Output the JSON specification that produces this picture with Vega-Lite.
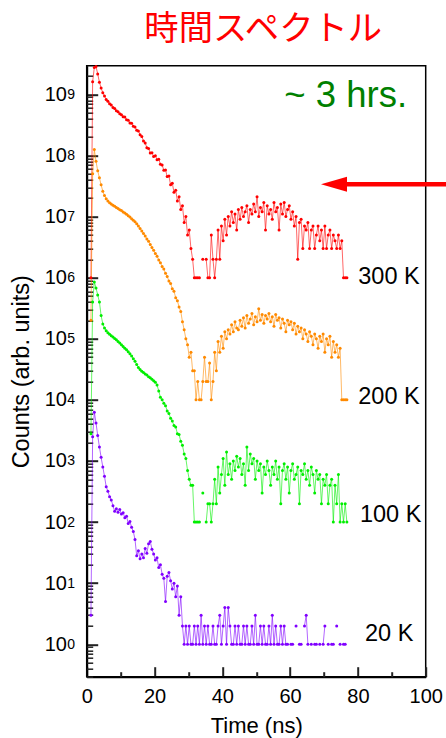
{
  "$schema": "https://vega.github.io/schema/vega-lite/v6.json",
  "width": 339,
  "height": 611,
  "autosize": "none",
  "padding": {"left": 86.7, "top": 65.7, "right": 20.3, "bottom": 61.3},
  "background": "white",
  "config": {
    "view": {"stroke": "black", "strokeWidth": 1.5},
    "axis": {"labelFont": "Liberation Sans", "titleFont": "Liberation Sans", "labelColor": "black", "titleColor": "black", "domainColor": "black", "grid": false},
    "text": {"font": "Liberation Sans"}
  },
  "title": {"text": "時間スペクトル", "color": "#ff0000", "font": "Noto Sans CJK JP", "fontSize": 34.3, "fontWeight": "normal", "anchor": "middle", "frame": "group", "offset": 17, "dx": 7},
  "datasets": {
    "decay": [
      {"t":1.25,"r":1e6,"o":20e4,"g":28e2,"p":3},
      {"t":1.75,"r":1600e6,"o":5000e4,"g":4000e2,"p":2500},
      {"t":2.25,"r":2750e6,"o":12500e4,"g":8500e2,"p":6300},
      {"t":2.75,"r":2850e6,"o":8000e4,"g":6800e2,"p":4200},
      {"t":3.25,"r":2150e6,"o":5600e4,"g":5200e2,"p":2600},
      {"t":3.75,"r":1580e6,"o":4300e4,"g":4000e2,"p":1700},
      {"t":4.25,"r":1270e6,"o":3300e4,"g":2400e2,"p":1150},
      {"t":4.75,"r":1060e6,"o":2600e4,"g":1750e2,"p":800},
      {"t":5.25,"r":940e6,"o":2200e4,"g":1500e2,"p":560},
      {"t":5.75,"r":820e6,"o":1950e4,"g":1350e2,"p":380},
      {"t":6.25,"r":770e6,"o":1800e4,"g":1250e2,"p":320},
      {"t":6.75,"r":700e6,"o":1680e4,"g":1180e2,"p":260},
      {"t":7.25,"r":670e6,"o":1600e4,"g":1120e2,"p":230},
      {"t":7.75,"r":610e6,"o":1530e4,"g":1070e2,"p":185},
      {"t":8.25,"r":585e6,"o":1480e4,"g":1010e2,"p":150},
      {"t":8.75,"r":540e6,"o":1400e4,"g":960e2,"p":165},
      {"t":9.25,"r":520e6,"o":1350e4,"g":900e2,"p":145},
      {"t":9.75,"r":480e6,"o":1290e4,"g":850e2,"p":160},
      {"t":10.25,"r":465e6,"o":1250e4,"g":800e2,"p":135},
      {"t":10.75,"r":430e6,"o":1190e4,"g":750e2,"p":142},
      {"t":11.25,"r":425e6,"o":1140e4,"g":700e2,"p":118},
      {"t":11.75,"r":385e6,"o":1090e4,"g":660e2,"p":125},
      {"t":12.25,"r":378e6,"o":1030e4,"g":610e2,"p":95},
      {"t":12.75,"r":340e6,"o":980e4,"g":570e2,"p":102},
      {"t":13.25,"r":336e6,"o":920e4,"g":520e2,"p":82},
      {"t":13.75,"r":300e6,"o":870e4,"g":470e2,"p":70},
      {"t":14.25,"r":292e6,"o":820e4,"g":430e2,"p":52},
      {"t":14.75,"r":258e6,"o":760e4,"g":380e2,"p":28},
      {"t":15.25,"r":250e6,"o":700e4,"g":340e2,"p":34},
      {"t":15.75,"r":218e6,"o":640e4,"g":315e2,"p":25},
      {"t":16.25,"r":205e6,"o":580e4,"g":295e2,"p":30},
      {"t":16.75,"r":172e6,"o":530e4,"g":280e2,"p":26},
      {"t":17.25,"r":160e6,"o":480e4,"g":265e2,"p":37},
      {"t":17.75,"r":134e6,"o":430e4,"g":255e2,"p":31},
      {"t":18.25,"r":130e6,"o":395e4,"g":240e2,"p":44},
      {"t":18.75,"r":110e6,"o":350e4,"g":230e2,"p":48},
      {"t":19.25,"r":111e6,"o":310e4,"g":218e2,"p":36},
      {"t":19.75,"r":96e6,"o":280e4,"g":205e2,"p":30},
      {"t":20.25,"r":99e6,"o":248e4,"g":195e2,"p":24},
      {"t":20.75,"r":85e6,"o":225e4,"g":175e2,"p":26},
      {"t":21.25,"r":87e6,"o":195e4,"g":140e2,"p":18},
      {"t":21.75,"r":72e6,"o":175e4,"g":110e2,"p":20},
      {"t":22.25,"r":70e6,"o":152e4,"g":100e2,"p":14},
      {"t":22.75,"r":57e6,"o":138e4,"g":88e2,"p":12},
      {"t":23.25,"r":58e6,"o":118e4,"g":80e2,"p":5},
      {"t":23.75,"r":45e6,"o":104e4,"g":66e2,"p":13},
      {"t":24.25,"r":46e6,"o":88e4,"g":60e2,"p":15},
      {"t":24.75,"r":33e6,"o":80e4,"g":50e2,"p":11},
      {"t":25.25,"r":35e6,"o":66e4,"g":45e2,"p":8},
      {"t":25.75,"r":25e6,"o":60e4,"g":38e2,"p":10},
      {"t":26.25,"r":27e6,"o":47e4,"g":36e2,"p":6},
      {"t":26.75,"r":18e6,"o":42e4,"g":28e2,"p":9},
      {"t":27.25,"r":21e6,"o":33e4,"g":27e2,"p":3},
      {"t":27.75,"r":13e6,"o":28e4,"g":21e2,"p":6},
      {"t":28.25,"r":15e6,"o":19e4,"g":18e2,"p":2},
      {"t":28.75,"r":8e6,"o":14e4,"g":13e2,"p":1},
      {"t":29.25,"r":10e6,"o":10e4,"g":11e2,"p":2},
      {"t":29.75,"r":5e6,"o":8e4,"g":7e2,"p":1},
      {"t":30.25,"r":6e6,"o":5e4,"g":5e2,"p":2},
      {"t":30.75,"r":3e6,"o":6e4,"g":4e2,"p":1},
      {"t":31.25,"r":2e6,"o":3e4,"g":4e2,"p":1},
      {"t":31.75,"r":1e6,"o":3e4,"g":1e2,"p":2},
      {"t":32.25,"r":1e6,"o":1e4,"g":1e2,"p":1},
      {"t":32.75,"r":1e6,"o":2e4,"g":1e2,"p":2},
      {"t":33.25,"r":1e6,"o":1e4,"g":1e2,"p":1},
      {"t":33.75,"r":null,"o":1e4,"g":null,"p":3},
      {"t":34.25,"r":2e6,"o":2e4,"g":3e2,"p":1},
      {"t":34.75,"r":null,"o":5e4,"g":null,"p":2},
      {"t":35.25,"r":2e6,"o":2e4,"g":1e2,"p":1},
      {"t":35.75,"r":1e6,"o":2e4,"g":2e2,"p":2},
      {"t":36.25,"r":1e6,"o":4e4,"g":2e2,"p":1},
      {"t":36.75,"r":5e6,"o":1e4,"g":1e2,"p":1},
      {"t":37.25,"r":2e6,"o":2e4,"g":2e2,"p":2},
      {"t":37.75,"r":1e6,"o":6e4,"g":5e2,"p":1},
      {"t":38.25,"r":2e6,"o":3e4,"g":2e2,"p":1},
      {"t":38.75,"r":6e6,"o":9e4,"g":8e2,"p":2},
      {"t":39.25,"r":2e6,"o":6e4,"g":3e2,"p":3},
      {"t":39.75,"r":7e6,"o":11e4,"g":6e2,"p":1},
      {"t":40.25,"r":4e6,"o":7e4,"g":11e2,"p":2},
      {"t":40.75,"r":9e6,"o":13e4,"g":4e2,"p":4},
      {"t":41.25,"r":5e6,"o":10e4,"g":14e2,"p":1},
      {"t":41.75,"r":10e6,"o":14e4,"g":6e2,"p":4},
      {"t":42.25,"r":7e6,"o":12e4,"g":9e2,"p":2},
      {"t":42.75,"r":12e6,"o":17e4,"g":5e2,"p":1},
      {"t":43.25,"r":8e6,"o":13e4,"g":10e2,"p":1},
      {"t":43.75,"r":11e6,"o":19e4,"g":7e2,"p":2},
      {"t":44.25,"r":6e6,"o":15e4,"g":12e2,"p":1},
      {"t":44.75,"r":13e6,"o":14e4,"g":8e2,"p":2},
      {"t":45.25,"r":9e6,"o":20e4,"g":11e2,"p":1},
      {"t":45.75,"r":14e6,"o":16e4,"g":6e2,"p":1},
      {"t":46.25,"r":10e6,"o":22e4,"g":9e2,"p":2},
      {"t":46.75,"r":12e6,"o":15e4,"g":4e2,"p":1},
      {"t":47.25,"r":15e6,"o":24e4,"g":17e2,"p":2},
      {"t":47.75,"r":8e6,"o":18e4,"g":7e2,"p":1},
      {"t":48.25,"r":13e6,"o":21e4,"g":13e2,"p":1},
      {"t":48.75,"r":11e6,"o":26e4,"g":9e2,"p":2},
      {"t":49.25,"r":16e6,"o":17e4,"g":11e2,"p":1},
      {"t":49.75,"r":12e6,"o":23e4,"g":5e2,"p":3},
      {"t":50.25,"r":21e6,"o":19e4,"g":10e2,"p":1},
      {"t":50.75,"r":10e6,"o":31e4,"g":7e2,"p":1},
      {"t":51.25,"r":14e6,"o":20e4,"g":9e2,"p":2},
      {"t":51.75,"r":12e6,"o":25e4,"g":3e2,"p":1},
      {"t":52.25,"r":17e6,"o":18e4,"g":8e2,"p":2},
      {"t":52.75,"r":6e6,"o":24e4,"g":6e2,"p":1},
      {"t":53.25,"r":15e6,"o":21e4,"g":10e2,"p":1},
      {"t":53.75,"r":11e6,"o":26e4,"g":7e2,"p":2},
      {"t":54.25,"r":13e6,"o":19e4,"g":4e2,"p":1},
      {"t":54.75,"r":9e6,"o":23e4,"g":8e2,"p":3},
      {"t":55.25,"r":17e6,"o":16e4,"g":6e2,"p":1},
      {"t":55.75,"r":12e6,"o":25e4,"g":10e2,"p":2},
      {"t":56.25,"r":14e6,"o":20e4,"g":5e2,"p":1},
      {"t":56.75,"r":6e6,"o":22e4,"g":8e2,"p":1},
      {"t":57.25,"r":16e6,"o":15e4,"g":2e2,"p":2},
      {"t":57.75,"r":11e6,"o":21e4,"g":7e2,"p":1},
      {"t":58.25,"r":17e6,"o":18e4,"g":9e2,"p":2},
      {"t":58.75,"r":10e6,"o":13e4,"g":5e2,"p":1},
      {"t":59.25,"r":13e6,"o":20e4,"g":8e2,"p":1},
      {"t":59.75,"r":15e6,"o":17e4,"g":3e2,"p":null},
      {"t":60.25,"r":9e6,"o":19e4,"g":7e2,"p":1},
      {"t":60.75,"r":12e6,"o":14e4,"g":9e2,"p":1},
      {"t":61.25,"r":7e6,"o":18e4,"g":5e2,"p":null},
      {"t":61.75,"r":10e6,"o":12e4,"g":6e2,"p":2},
      {"t":62.25,"r":2e6,"o":16e4,"g":8e2,"p":null},
      {"t":62.75,"r":8e6,"o":13e4,"g":2e2,"p":1},
      {"t":63.25,"r":9e6,"o":15e4,"g":7e2,"p":1},
      {"t":63.75,"r":3e6,"o":10e4,"g":6e2,"p":null},
      {"t":64.25,"r":7e6,"o":14e4,"g":9e2,"p":2},
      {"t":64.75,"r":6e6,"o":12e4,"g":5e2,"p":3},
      {"t":65.25,"r":8e6,"o":9e4,"g":7e2,"p":1},
      {"t":65.75,"r":3e6,"o":13e4,"g":4e2,"p":null},
      {"t":66.25,"r":6e6,"o":11e4,"g":8e2,"p":1},
      {"t":66.75,"r":7e6,"o":8e4,"g":6e2,"p":null},
      {"t":67.25,"r":3e6,"o":12e4,"g":3e2,"p":1},
      {"t":67.75,"r":5e6,"o":10e4,"g":7e2,"p":1},
      {"t":68.25,"r":7e6,"o":7e4,"g":5e2,"p":null},
      {"t":68.75,"r":4e6,"o":11e4,"g":6e2,"p":1},
      {"t":69.25,"r":6e6,"o":9e4,"g":2e2,"p":null},
      {"t":69.75,"r":3e6,"o":12e4,"g":5e2,"p":1},
      {"t":70.25,"r":7e6,"o":6e4,"g":4e2,"p":2},
      {"t":70.75,"r":3e6,"o":10e4,"g":6e2,"p":null},
      {"t":71.25,"r":5e6,"o":8e4,"g":2e2,"p":1},
      {"t":71.75,"r":6e6,"o":11e4,"g":4e2,"p":null},
      {"t":72.25,"r":3e6,"o":5e4,"g":5e2,"p":1},
      {"t":72.75,"r":5e6,"o":9e4,"g":1e2,"p":1},
      {"t":73.25,"r":4e6,"o":6e4,"g":4e2,"p":null},
      {"t":73.75,"r":3e6,"o":8e4,"g":2e2,"p":2},
      {"t":74.25,"r":5e6,"o":5e4,"g":6e2,"p":null},
      {"t":74.75,"r":3e6,"o":7e4,"g":1e2,"p":1},
      {"t":75.25,"r":4e6,"o":1e4,"g":2e2,"p":null},
      {"t":75.75,"r":1e6,"o":1e4,"g":1e2,"p":1},
      {"t":76.25,"r":1e6,"o":1e4,"g":2e2,"p":1},
      {"t":76.75,"r":1e6,"o":1e4,"g":1e2,"p":null}
    ],
    "tags": [
      {"t": 80.1, "v": 1.04e6, "lab": "300 K"},
      {"t": 80.1, "v": 1.13e4, "lab": "200 K"},
      {"t": 80.6, "v": 130, "lab": "100 K"},
      {"t": 82.1, "v": 1.5, "lab": "20 K"}
    ],
    "note": [{"t": 58.3, "v": 6.3e8, "lab": "~ 3 hrs."}],
    "arrow": [{"t": 106, "t2": 75.5, "v": 3.38e7}],
    "head": [{"t": 72.95, "v": 3.38e7}]
  },
  "layer": [
    {
      "data": {"name": "decay"},
      "transform": [{"fold": ["r", "o", "g", "p"], "as": ["s", "v"]}],
      "mark": {"type": "line", "strokeWidth": 1, "strokeOpacity": 0.6},
      "encoding": {
        "x": {"field": "t", "type": "quantitative", "scale": {"domain": [0, 100], "nice": false, "zero": false},
          "axis": {"orient": "bottom", "values": [0, 20, 40, 60, 80, 100], "tickSize": -10, "tickWidth": 2, "tickColor": "#222222", "domainWidth": 2, "labelFontSize": 20, "labelPadding": 19.8, "labelFlush": false, "labelOverlap": false, "title": "Time (ns)", "titleFontSize": 22, "titleFontWeight": "normal", "titlePadding": 9}},
        "y": {"field": "v", "type": "quantitative", "scale": {"type": "log", "domain": [0.295, 2.94e9], "nice": false},
          "axis": {"orient": "left", "values": [1, 10, 100, 1e3, 1e4, 1e5, 1e6, 1e7, 1e8, 1e9], "labelExpr": "'10'", "tickSize": -11, "tickWidth": 2, "tickColor": "#222222", "domainWidth": 2, "labelFontSize": 20, "labelPadding": 31.2, "labelDy": 2, "title": "Counts (arb. units)", "titleFontSize": 23.5, "titleFontWeight": "normal", "titlePadding": 11}},
        "color": {"field": "s", "type": "nominal", "scale": {"domain": ["r", "o", "g", "p"], "range": ["#ff0000", "#ff8a00", "#00ee00", "#8000ff"]}, "legend": null},
        "detail": {"field": "s"}
      }
    },
    {
      "data": {"name": "decay"},
      "transform": [{"fold": ["r", "o", "g", "p"], "as": ["s", "v"]}],
      "mark": {"type": "point", "filled": true, "size": 9, "opacity": 1},
      "encoding": {
        "x": {"field": "t", "type": "quantitative", "scale": {"domain": [0, 100], "nice": false, "zero": false},
          "axis": {"orient": "bottom", "values": [10, 30, 50, 70, 90], "tickSize": -5, "tickWidth": 2, "tickColor": "#222222", "labels": false, "domain": false, "title": null}},
        "y": {"field": "v", "type": "quantitative", "scale": {"type": "log", "domain": [0.295, 2.94e9], "nice": false},
          "axis": {"orient": "left", "values": [0.3,0.4,0.5,0.6,0.7,0.8,0.9,2,3,4,5,6,7,8,9,20,30,40,50,60,70,80,90,200,300,400,500,600,700,800,900,2e3,3e3,4e3,5e3,6e3,7e3,8e3,9e3,2e4,3e4,4e4,5e4,6e4,7e4,8e4,9e4,2e5,3e5,4e5,5e5,6e5,7e5,8e5,9e5,2e6,3e6,4e6,5e6,6e6,7e6,8e6,9e6,2e7,3e7,4e7,5e7,6e7,7e7,8e7,9e7,2e8,3e8,4e8,5e8,6e8,7e8,8e8,9e8,2e9], "tickSize": -6, "tickWidth": 1.5, "tickColor": "#222222", "labels": false, "domain": false, "title": null}},
        "color": {"field": "s", "type": "nominal", "scale": {"domain": ["r", "o", "g", "p"], "range": ["#ff0000", "#ff8a00", "#00ee00", "#8000ff"]}, "legend": null}
      }
    },
    {
      "data": {"name": "tags"},
      "mark": {"type": "text", "align": "left", "baseline": "middle", "fontSize": 23.5, "color": "black"},
      "encoding": {
        "x": {"field": "t", "type": "quantitative", "scale": {"domain": [0, 100], "nice": false, "zero": false}, "axis": null},
        "y": {"field": "v", "type": "quantitative", "scale": {"type": "log", "domain": [0.295, 2.94e9], "nice": false},
          "axis": {"orient": "left", "values": [1, 10, 100, 1e3, 1e4, 1e5, 1e6, 1e7, 1e8, 1e9], "labelExpr": "'' + round(log(datum.value) / LN10)", "ticks": false, "domain": false, "labelFontSize": 14, "labelPadding": 12.2, "labelDy": -4, "title": null}},
        "text": {"field": "lab"}
      }
    },
    {
      "data": {"name": "note"},
      "mark": {"type": "text", "align": "left", "baseline": "alphabetic", "fontSize": 36.5, "color": "#008000"},
      "encoding": {
        "x": {"field": "t", "type": "quantitative", "scale": {"domain": [0, 100], "nice": false, "zero": false}, "axis": null},
        "y": {"field": "v", "type": "quantitative", "scale": {"type": "log", "domain": [0.295, 2.94e9], "nice": false}, "axis": null},
        "text": {"field": "lab"}
      }
    },
    {
      "data": {"name": "arrow"},
      "mark": {"type": "rule", "color": "#ff0000", "strokeWidth": 4.5},
      "encoding": {
        "x": {"field": "t", "type": "quantitative", "scale": {"domain": [0, 100], "nice": false, "zero": false}, "axis": null},
        "x2": {"field": "t2"},
        "y": {"field": "v", "type": "quantitative", "scale": {"type": "log", "domain": [0.295, 2.94e9], "nice": false}, "axis": null}
      }
    },
    {
      "data": {"name": "head"},
      "mark": {"type": "point", "filled": true, "opacity": 1, "color": "#ff0000", "shape": "M-1,0L1,-0.577L1,0.577Z", "size": 676},
      "encoding": {
        "x": {"field": "t", "type": "quantitative", "scale": {"domain": [0, 100], "nice": false, "zero": false}, "axis": null},
        "y": {"field": "v", "type": "quantitative", "scale": {"type": "log", "domain": [0.295, 2.94e9], "nice": false}, "axis": null}
      }
    }
  ],
  "resolve": {"axis": {"x": "independent", "y": "independent"}}
}
